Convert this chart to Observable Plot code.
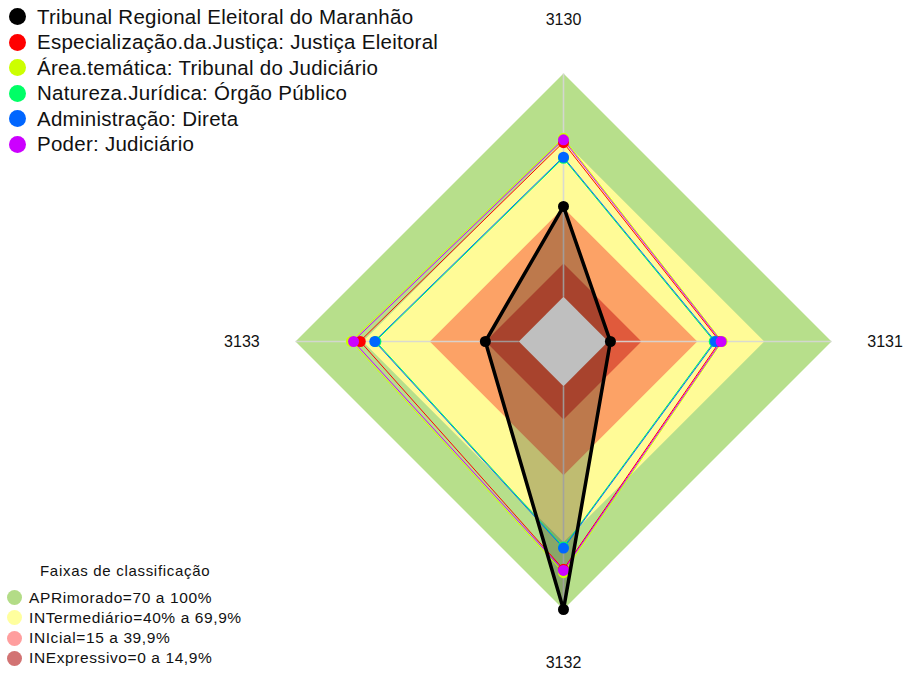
<!DOCTYPE html>
<html>
<head>
<meta charset="utf-8">
<script src="https://cdn.jsdelivr.net/npm/d3@7"></script>
<script src="https://cdn.jsdelivr.net/npm/@observablehq/plot@0.6"></script>
<style>
  html, body { margin: 0; padding: 0; background: #fff; }
  #wrap { position: relative; width: 905px; height: 675px; font-family: "Liberation Sans", Arial, sans-serif; }
  #chart svg { display: block; }
  .leg { position: absolute; color: #111; white-space: nowrap; }
  .row { position: absolute; display: flex; align-items: center; white-space: nowrap; }
  .dot { border-radius: 50%; flex: none; }
</style>
</head>
<body>
<div id="wrap">
  <div id="chart"></div>
  <div id="legTop" class="leg"></div>
  <div id="legBottom" class="leg"></div>
</div>
<script>
// ---- data ----
const axes = ["3130", "3131", "3132", "3133"];
const seriesNames = [
  "Tribunal Regional Eleitoral do Maranhão",
  "Especialização.da.Justiça: Justiça Eleitoral",
  "Área.temática: Tribunal do Judiciário",
  "Natureza.Jurídica: Órgão Público",
  "Administração: Direta",
  "Poder: Judiciário"
];
const seriesColors = ["#000000", "#FF0000", "#CCFF00", "#00FF66", "#0066FF", "#CC00FF"];
// values per axis in order 3130, 3131, 3132, 3133
const tribunal = [40.5, 1, 100, 15];
const especializacao = [69, 50, 82, 71];
const areaTematica = [71, 51, 83.5, 75];
const natureza = [62, 47.5, 72, 64];
const administracao = [62.5, 48, 72.5, 64.5];
const poder = [70.3, 50.6, 82.5, 74];
const seriesValues = [tribunal, especializacao, areaTematica, natureza, administracao, poder];

const bandLabels = ["APRimorado=70 a 100%", "INTermediário=40% a 69,9%", "INIcial=15 a 39,9%", "INExpressivo=0 a 14,9%"];
const bandUpper = [100, 69.9, 39.9, 14.9];
const bandColors = ["#b7df8b", "#fffb97", "#fca266", "#e05a3c"];
const bandLegendColors = ["#b3dc87", "#ffff9e", "#ff9e9e", "#d27373"];
const legendTitle = "Faixas de classificação";

// ---- geometry helpers ----
const rad = v => (1 + 5 * v / 100) / 6;           // radial value -> unit radius (with centre hole)
const ang = i => Math.PI / 2 - i * Math.PI / 2;    // 3130 top, clockwise
const px = (i, v) => rad(v) * Math.cos(ang(i));
const py = (i, v) => rad(v) * Math.sin(ang(i));

const bandRows = [];
bandUpper.forEach((u, b) => axes.forEach((a, i) => bandRows.push({band: b, x: px(i, u), y: py(i, u), color: bandColors[b]})));
const holeRows = axes.map((a, i) => ({x: px(i, 0), y: py(i, 0)}));
const spokeRows = axes.map((a, i) => ({x1: px(i, 0), y1: py(i, 0), x2: px(i, 100), y2: py(i, 100)}));
const labelRows = axes.map((a, i) => ({label: a, x: 1.2 * Math.cos(ang(i)), y: 1.2 * Math.sin(ang(i))}));

const seriesRows = [];
seriesValues.forEach((vals, s) => vals.forEach((v, i) => seriesRows.push({s, name: seriesNames[s], color: seriesColors[s], x: px(i, v), y: py(i, v)})));
const colored = seriesRows.filter(d => d.s > 0);
const black = seriesRows.filter(d => d.s === 0);

const R = 268, cx = 563, cy = 341, W = 905, H = 675;

const chart = Plot.plot({
  width: W, height: H, margin: 0,
  x: {domain: [-cx / R, (W - cx) / R], axis: null},
  y: {domain: [-(H - cy) / R, cy / R], axis: null},
  marks: [
    Plot.line(bandRows, {x: "x", y: "y", z: "band", fill: d => d.color, stroke: null, curve: "linear-closed"}),
    Plot.line(holeRows, {x: "x", y: "y", fill: "white", stroke: null, curve: "linear-closed"}),
    Plot.link(spokeRows, {x1: "x1", y1: "y1", x2: "x2", y2: "y2", stroke: "#d6d6d6", strokeWidth: 1.6, strokeOpacity: 0.9}),
    Plot.line(black, {x: "x", y: "y", z: "s", fill: "black", fillOpacity: 0.25, stroke: null, curve: "linear-closed"}),
    Plot.line(colored, {x: "x", y: "y", z: "s", stroke: d => d.color, strokeWidth: 1, curve: "linear-closed"}),
    Plot.dot(colored, {x: "x", y: "y", r: 5.5, fill: d => d.color, stroke: null}),
    Plot.line(black, {x: "x", y: "y", z: "s", stroke: "black", strokeWidth: 3.5, curve: "linear-closed"}),
    Plot.dot(black, {x: "x", y: "y", r: 5.5, fill: "black", stroke: null}),
    Plot.text(labelRows, {x: "x", y: "y", text: "label", fontSize: 16, fill: "#111", fontFamily: "Liberation Sans, Arial, sans-serif"})
  ]
});
document.getElementById("chart").appendChild(chart);

// ---- legends (HTML overlay) ----
const legTop = document.getElementById("legTop");
legTop.style.left = "0px"; legTop.style.top = "0px";
seriesNames.forEach((n, k) => {
  const row = document.createElement("div");
  row.className = "row";
  row.style.left = "9px";
  row.style.top = (16.5 + k * 25.5 - 12) + "px";
  row.style.height = "24px";
  row.style.fontSize = "20.5px";
  row.style.letterSpacing = "0.26px";
  const d = document.createElement("div");
  d.className = "dot";
  d.style.width = "17px"; d.style.height = "17px"; d.style.background = seriesColors[k];
  const t = document.createElement("span");
  t.textContent = n; t.style.marginLeft = "11px";
  row.appendChild(d); row.appendChild(t);
  legTop.appendChild(row);
});

const legBot = document.getElementById("legBottom");
legBot.style.left = "0px"; legBot.style.top = "0px";
const title = document.createElement("div");
title.className = "row";
title.textContent = legendTitle;
title.style.left = "40px"; title.style.top = "562px"; title.style.fontSize = "15px";
title.style.letterSpacing = "0.7px";
legBot.appendChild(title);
bandLabels.forEach((n, k) => {
  const row = document.createElement("div");
  row.className = "row";
  row.style.left = "7px";
  row.style.top = (597.7 + k * 20.2 - 10) + "px";
  row.style.height = "20px";
  row.style.fontSize = "15.5px";
  row.style.letterSpacing = "0.6px";
  const d = document.createElement("div");
  d.className = "dot";
  d.style.width = "15px"; d.style.height = "15px"; d.style.background = bandLegendColors[k];
  const t = document.createElement("span");
  t.textContent = n; t.style.marginLeft = "7px";
  row.appendChild(d); row.appendChild(t);
  legBot.appendChild(row);
});
</script>
</body>
</html>
